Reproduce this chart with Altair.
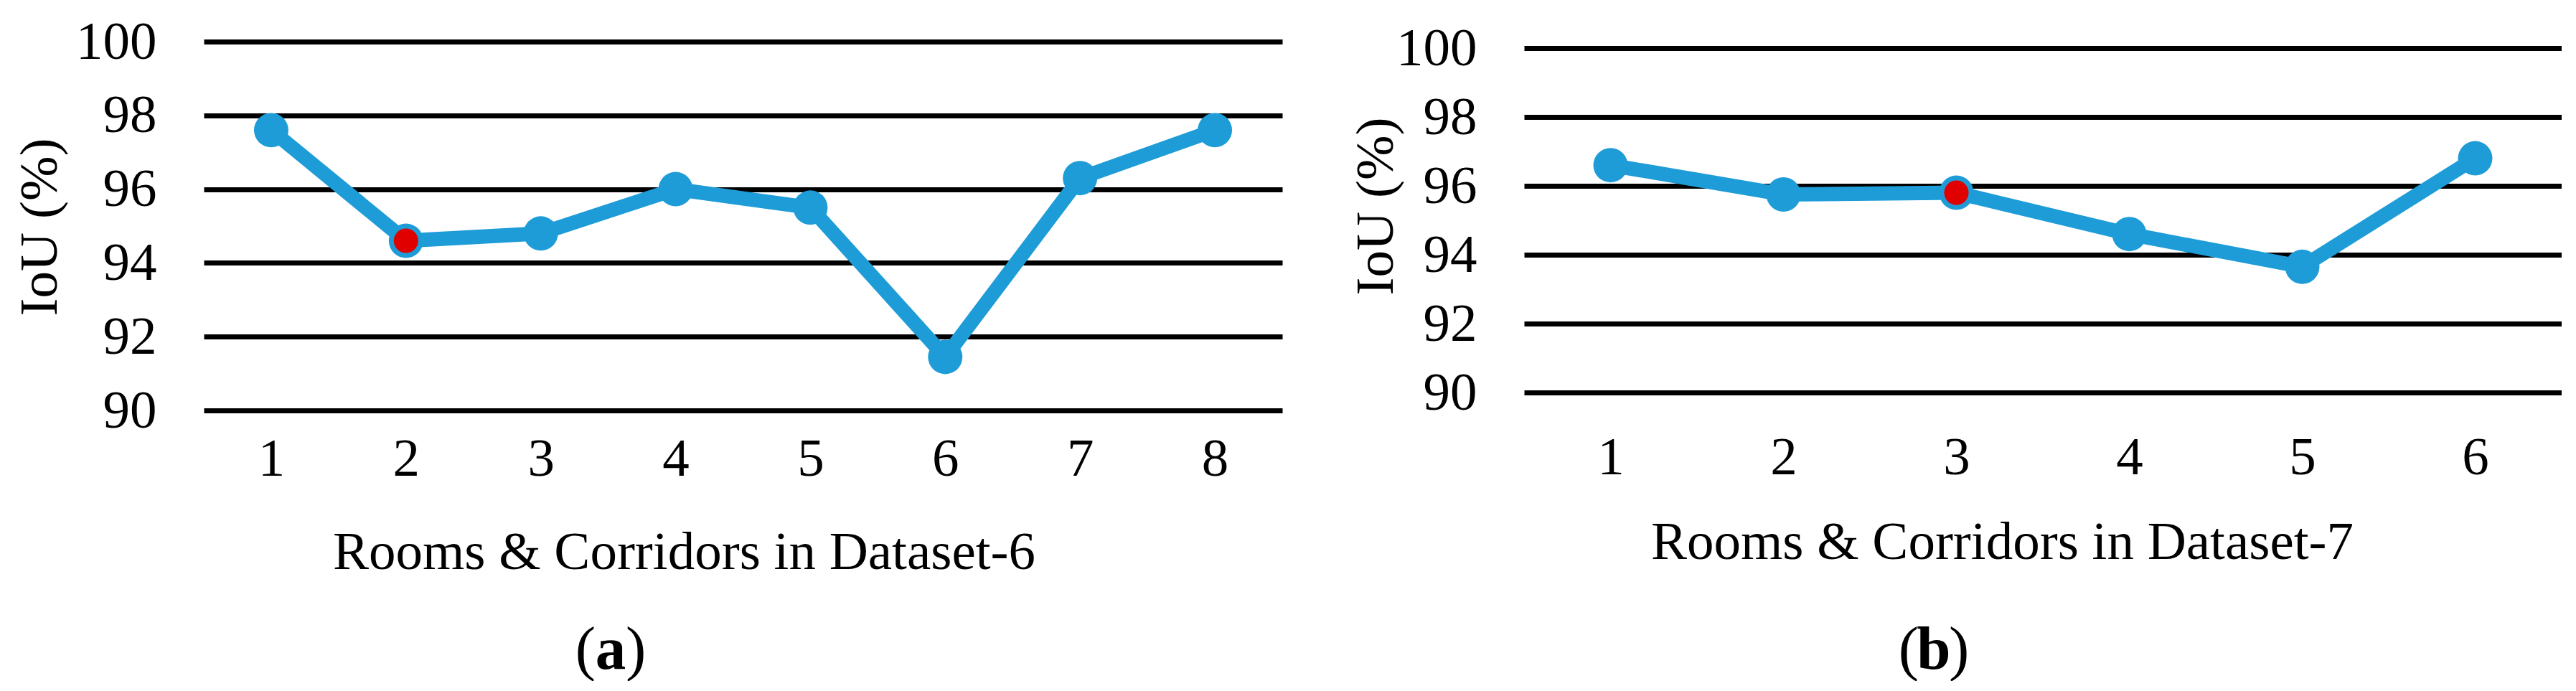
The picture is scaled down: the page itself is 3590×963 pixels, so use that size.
import altair as alt
import pandas as pd

# ---- data ----
rooms_a = [1, 2, 3, 4, 5, 6, 7, 8]
iou_a = [97.6, 94.6, 94.8, 96.0, 95.5, 91.45, 96.3, 97.6]
highlight_a = [2]

rooms_b = [1, 2, 3, 4, 5, 6]
iou_b = [96.6, 95.75, 95.8, 94.6, 93.65, 96.8]
highlight_b = [3]

y_ticks = [90, 92, 94, 96, 98, 100]
y_title = "IoU (%)"
x_title_a = "Rooms & Corridors in Dataset-6"
x_title_b = "Rooms & Corridors in Dataset-7"
caption_a = ["(", "a", ")"]
caption_b = ["(", "b", ")"]

BLUE = "#1E9CD7"
RED = "#E00000"
FONT = "Liberation Serif"
FS = 75


def panel(rooms, iou, hl, x_title, caption, width, height, ydom,
          xlab_pad, xt_x, xt_y, yt_x, yt_y, cap_x, cap_y):
    order = [str(r) for r in rooms]
    df = pd.DataFrame({"room": order, "iou": iou,
                       "hl": [r in hl for r in rooms]})
    x = alt.X("room:O", sort=order,
              scale=alt.Scale(type="point", padding=0.5),
              axis=alt.Axis(title=x_title, labelAngle=0, ticks=False, domain=False,
                            grid=False, labelPadding=xlab_pad,
                            labelBaseline="alphabetic", labelFont=FONT,
                            labelFontSize=FS, labelColor="black",
                            titleFont=FONT, titleFontSize=FS, titleFontWeight="normal",
                            titleColor="black", titleX=xt_x, titleY=xt_y,
                            titleAlign="center", titleBaseline="alphabetic"))
    y = alt.Y("iou:Q",
              scale=alt.Scale(domain=ydom, nice=False, zero=False),
              axis=alt.Axis(values=y_ticks, title=y_title, ticks=False, domain=False,
                            grid=True, gridColor="black", gridWidth=7, gridOpacity=1,
                            labelPadding=66, labelFont=FONT, labelFontSize=FS,
                            labelColor="black",
                            titleFont=FONT, titleFontSize=FS, titleFontWeight="normal",
                            titleColor="black", titleAngle=270, titleX=yt_x, titleY=yt_y,
                            titleAlign="center", titleBaseline="alphabetic"))
    base = alt.Chart(df).encode(x=x, y=y)
    line = base.mark_line(color=BLUE, strokeWidth=20)
    dots = base.mark_circle(color=BLUE, size=2300, opacity=1)
    red = base.transform_filter("datum.hl").mark_circle(color=RED, size=1160, opacity=1)

    cap_df = pd.DataFrame({"t": caption})
    lp = alt.Chart(cap_df).transform_filter(f"datum.t == '{caption[0]}'").mark_text(
        font=FONT, fontSize=85, align="right", baseline="alphabetic", color="black"
    ).encode(text="t:N", x=alt.value(cap_x - 21), y=alt.value(cap_y))
    mid = alt.Chart(cap_df).transform_filter(f"datum.t == '{caption[1]}'").mark_text(
        font=FONT, fontSize=85, fontWeight="bold", align="center", baseline="alphabetic",
        color="black"
    ).encode(text="t:N", x=alt.value(cap_x), y=alt.value(cap_y))
    rp = alt.Chart(cap_df).transform_filter(f"datum.t == '{caption[2]}'").mark_text(
        font=FONT, fontSize=85, align="left", baseline="alphabetic", color="black"
    ).encode(text="t:N", x=alt.value(cap_x + 21), y=alt.value(cap_y))

    return alt.layer(line, dots, red, lp, mid, rp).properties(width=width, height=height)


pa = panel(rooms_a, iou_a, highlight_a, x_title_a, caption_a,
           1503, 514, [90, 100],
           xlab_pad=90, xt_x=669, xt_y=220, yt_x=-206, yt_y=258,
           cap_x=567, cap_y=874)
pb = panel(rooms_b, iou_b, highlight_b, x_title_b, caption_b,
           1446, 489, [90, 100.1875],
           xlab_pad=113, xt_x=666, xt_y=231, yt_x=-184, yt_y=229,
           cap_x=571, cap_y=874)

chart = alt.hconcat(pa, pb, spacing=337, bounds="flush").properties(
    padding={"left": 10, "top": 13, "right": 0, "bottom": 0},
    background="white",
).configure_view(stroke=None)

chart.save("out.html", embed_options={"renderer": "svg", "actions": False})
